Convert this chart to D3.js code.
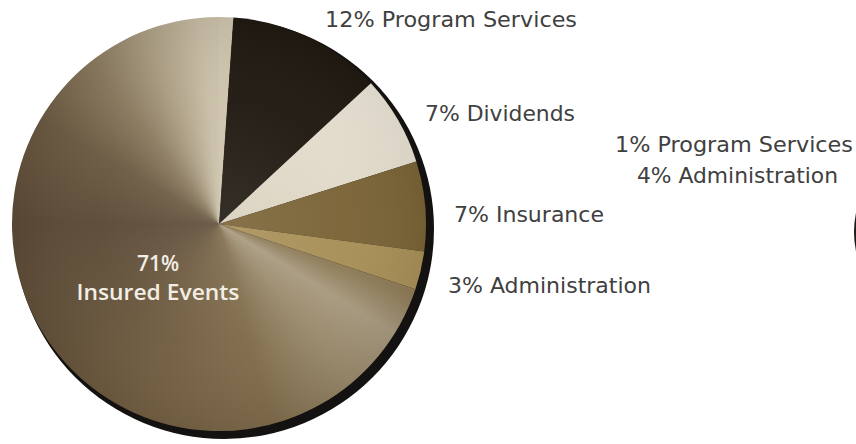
<!DOCTYPE html>
<html>
<head>
<meta charset="utf-8">
<script src="https://cdn.jsdelivr.net/npm/d3@7"></script>
<style>
  html, body { margin: 0; padding: 0; background: #ffffff; }
  svg { display: block; }
</style>
</head>
<body>
<svg id="chart" width="856" height="444"></svg>
<script>
// Expense breakdown (percent of total)
const categories = ["Program Services", "Dividends", "Insurance", "Administration", "Insured Events"];
const values = [12, 7, 7, 3, 71];

// Second breakdown, whose pie lies mostly beyond the right edge
const sideCategories = ["Program Services", "Administration"];
const sideValues = [1, 4];

const W = 856, H = 444;
const cx = 219, cy = 224, R = 207;

const svg = d3.select("#chart");
const defs = svg.append("defs");

// Slice fills (the large slice gets a metallic sheen instead)
const fills = ["#1f1911", "url(#cream)", "#7a6336", "#a88f57", null];

const cream = defs.append("linearGradient").attr("id", "cream")
  .attr("x1", "1").attr("y1", "0").attr("x2", "0").attr("y2", "1");
cream.append("stop").attr("offset", "0").attr("stop-color", "#ece6d9");
cream.append("stop").attr("offset", "1").attr("stop-color", "#d9d0bd");

// Drop shadow disk behind the main pie
svg.append("circle")
  .attr("cx", cx + 5).attr("cy", cy + 5).attr("r", R + 3)
  .attr("fill", "#141210");

// Edge of the second pie at the right border
svg.append("circle")
  .attr("cx", 948).attr("cy", 232).attr("r", 94)
  .attr("fill", "#1d1b18");

const pie = d3.pie().sort(null)
  .startAngle(4 * Math.PI / 180)
  .endAngle(4 * Math.PI / 180 + 2 * Math.PI);
const arcs = pie(values);
const arc = d3.arc().innerRadius(0).outerRadius(R);

const g = svg.append("g").attr("transform", `translate(${cx},${cy})`);

// Sheen colour by angle (degrees clockwise from north)
const sheenAngles = [110, 122, 140, 165, 200, 240, 270, 300, 322, 340, 355, 364];
const sheenColors = ["#8e7b57", "#a89a7f", "#9a8a6b", "#806c4c", "#735f42", "#63513a",
                     "#5b4935", "#6b5a42", "#8a7a5f", "#ada086", "#c8bda5", "#cec4ad"];

arcs.forEach((a, i) => {
  if (fills[i]) {
    g.append("path").attr("d", arc(a)).attr("fill", fills[i]);
  } else {
    defs.append("clipPath").attr("id", "bigSlice")
      .append("path").attr("d", arc(a));
    // conic gradient centred on the pie, starting at north
    const stops = sheenAngles.map((ang, k) => `${sheenColors[k]} ${ang}deg`);
    const wrapColor = sheenColors[sheenColors.length - 1];
    const css = `conic-gradient(from 0deg at 50% 50%, ${wrapColor} 0deg, ${wrapColor} 4deg, ${sheenColors[0]} 4.01deg, ${stops.join(", ")})`;
    const fo = g.append("foreignObject")
      .attr("x", -R).attr("y", -R).attr("width", 2 * R).attr("height", 2 * R)
      .attr("clip-path", "url(#bigSlice)");
    fo.append("xhtml:div")
      .style("width", `${2 * R}px`).style("height", `${2 * R}px`)
      .style("background", css);
  }
});

// Soft light toward the centre of the pie
const rg = defs.append("radialGradient").attr("id", "glow")
  .attr("cx", "0.5").attr("cy", "0.5").attr("r", "0.5");
rg.append("stop").attr("offset", "0").attr("stop-color", "#ffffff").attr("stop-opacity", 0.10);
rg.append("stop").attr("offset", "0.6").attr("stop-color", "#ffffff").attr("stop-opacity", 0.03);
rg.append("stop").attr("offset", "1").attr("stop-color", "#000000").attr("stop-opacity", 0.06);
g.append("circle").attr("r", R).attr("fill", "url(#glow)");

// Outside labels
const pct = d => `${d}% `;
const labelLayout = [
  { x: 325, y: 27, w: 252 },
  { x: 425, y: 121, w: 150 },
  { x: 454, y: 222, w: 150 },
  { x: 448, y: 293, w: 203 }
];
const outside = categories.slice(0, 4).map((c, i) => ({ text: pct(values[i]) + c, ...labelLayout[i] }));
const sideLayout = [
  { x: 615, y: 152, w: 238 },
  { x: 637, y: 183, w: 201 }
];
const side = sideCategories.map((c, i) => ({ text: pct(sideValues[i]) + c, ...sideLayout[i] }));

svg.selectAll("text.lbl").data(outside.concat(side)).join("text")
  .attr("class", "lbl")
  .attr("x", d => d.x).attr("y", d => d.y)
  .attr("textLength", d => d.w)
  .attr("lengthAdjust", "spacingAndGlyphs")
  .attr("font-family", "'DejaVu Sans', sans-serif")
  .attr("font-size", 21)
  .attr("fill", "#404040")
  .text(d => d.text);

// Label inside the large slice
const innerStyle = t => t
  .attr("font-family", "'Open Sans', sans-serif")
  .attr("font-weight", 600)
  .attr("font-size", 21)
  .attr("fill", "#f2eee4")
  .attr("text-anchor", "middle");
svg.append("text").call(innerStyle)
  .attr("x", 158).attr("y", 271).text(`${values[4]}%`);
svg.append("text").call(innerStyle)
  .attr("x", 158).attr("y", 300)
  .attr("textLength", 163).attr("lengthAdjust", "spacingAndGlyphs")
  .text(categories[4]);
</script>
</body>
</html>
